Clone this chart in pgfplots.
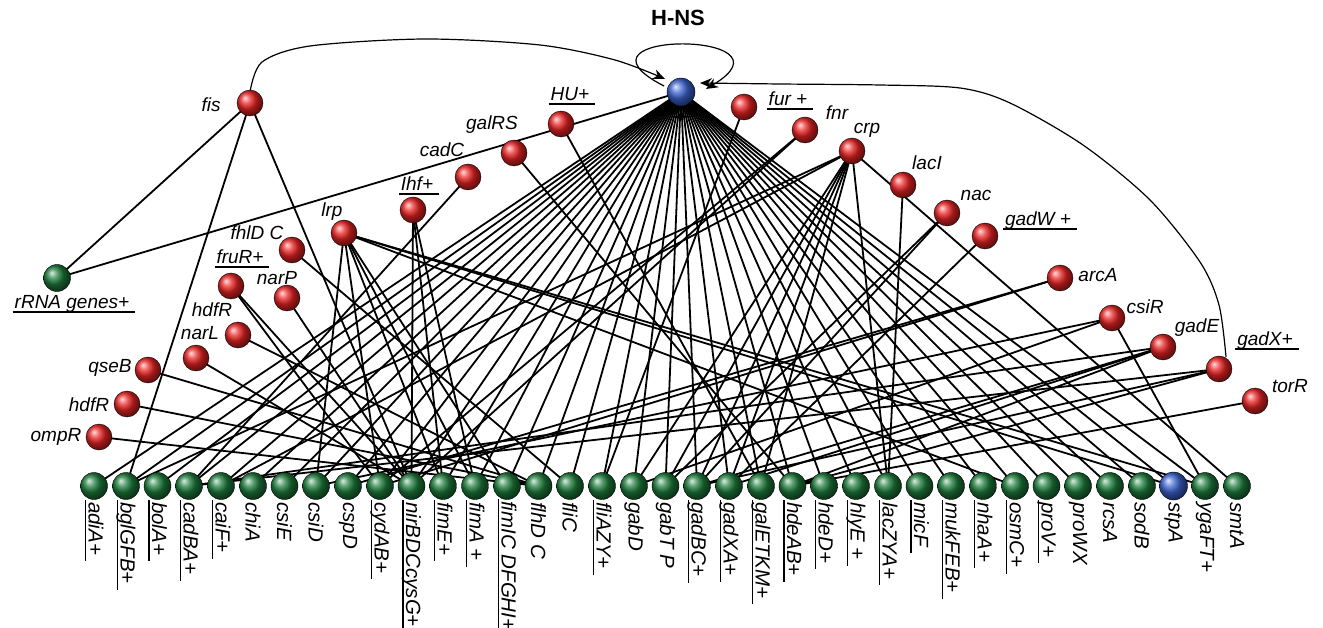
\documentclass[border=0pt]{standalone}
\usepackage{fontspec}
\setmainfont{Liberation Sans}
\usepackage{pgfplots}
\pgfplotsset{compat=1.18}
\usepackage{pgfplotstable}
\usetikzlibrary{arrows.meta,plotmarks}
\definecolor{nred}{RGB}{235,35,35}
\definecolor{ngreen}{RGB}{30,125,60}
\definecolor{nblue}{RGB}{60,100,210}
\newcommand\ul[1]{\setbox0\hbox{#1}\rlap{\hspace{-2pt}\rule[-4pt]{\dimexpr\wd0+8pt\relax}{1.6pt}}\box0}
\tikzset{
  tl/.style={inner sep=0pt, font=\fontsize{19}{19}\selectfont\itshape},
  bl/.style={rotate=-90, anchor=west, inner sep=0pt, font=\fontsize{20.5}{20.5}\selectfont\itshape},
}

\pgfplotstableread{
x y
94 486
126 486
157.5 486
189 486
221 486
253 486
284.5 486
316 486
348 486
380 486
411.5 486
443 486
475 486
507 486
538.5 486
570 486
602 486
634 486
665.5 486
697 486
729 486
761 486
792.5 486
824 486
856 486
888 486
919.5 486
951 486
983 486
1015 486
1046.5 486
1078 486
1110 486
1142 486
1205 486
1237 486
57 278
}\greennodes

\pgfplotstableread{
x y
250 103
561 124
514 153
468 177
413 210
344 233
292 250
231 286
287 298
238 335
196 358
148 370
127 404
99 437
744 107
805 130
852 151
903 185
947 213
985 236
1060 278
1112 318
1163 347
1219 369
1255 401
}\rednodes

\pgfplotstableread{
x y
681 92
1173.5 486
}\bluenodes

\pgfplotstableread{
x y xe ye
681 92 94 486
681 92 126 486
681 92 157.5 486
681 92 189 486
681 92 221 486
681 92 253 486
681 92 284.5 486
681 92 316 486
681 92 348 486
681 92 380 486
681 92 411.5 486
681 92 443 486
681 92 475 486
681 92 507 486
681 92 538.5 486
681 92 570 486
681 92 602 486
681 92 634 486
681 92 665.5 486
681 92 697 486
681 92 729 486
681 92 761 486
681 92 792.5 486
681 92 824 486
681 92 856 486
681 92 888 486
681 92 919.5 486
681 92 951 486
681 92 983 486
681 92 1015 486
681 92 1046.5 486
681 92 1078 486
681 92 1110 486
681 92 1142 486
681 92 1173.5 486
681 92 1205 486
681 92 57 278
250 103 57 278
250 103 126 486
250 103 411.5 486
561 124 761 486
514 153 792.5 486
468 177 189 486
413 210 411.5 486
413 210 443 486
413 210 475 486
344 233 316 486
344 233 380 486
344 233 443 486
344 233 475 486
344 233 507 486
344 233 1015 486
344 233 1173.5 486
344 233 1205 486
292 250 570 486
231 286 380 486
231 286 411.5 486
287 298 411.5 486
238 335 538.5 486
196 358 411.5 486
148 370 538.5 486
127 404 538.5 486
99 437 538.5 486
744 107 602 486
805 130 380 486
805 130 411.5 486
852 151 126 486
852 151 221 486
852 151 634 486
852 151 665.5 486
852 151 697 486
852 151 729 486
852 151 761 486
852 151 888 486
852 151 1237 486
903 185 888 486
947 213 665.5 486
947 213 697 486
985 236 729 486
1060 278 348 486
1060 278 380 486
1112 318 316 486
1112 318 634 486
1112 318 1205 486
1163 347 189 486
1163 347 697 486
1163 347 729 486
1163 347 792.5 486
1219 369 189 486
1219 369 697 486
1219 369 792.5 486
1255 401 792.5 486
}\edges

\begin{document}
\begin{tikzpicture}
\begin{axis}[
  scale only axis, width=1323pt, height=628pt,
  xmin=0, xmax=1323, ymin=0, ymax=628, y dir=reverse,
  axis lines=none, clip=false,
]
\coordinate (bbA) at (axis cs:0,628);
\coordinate (bbB) at (axis cs:1323,0);
% edges
\addplot[black, line width=1.8pt,
  quiver={u=\thisrow{xe}-\thisrow{x}, v=\thisrow{ye}-\thisrow{y}}]
  table[x=x, y=y] {\edges};
% arcs
\addplot[smooth, black, line width=1.2pt, -{Stealth[length=12pt,width=10pt]}]
  coordinates {(250,92) (262,62) (310,46) (425,39) (540,45) (615,60) (665,79)};
\addplot[smooth, black, line width=1.2pt, -{Stealth[length=12pt,width=10pt]}]
  coordinates {(1226,357) (1219,305) (1200,262) (1150,200) (1083,145) (1010,103) (960,88) (880,85) (780,84) (700,83)};
\draw[black, line width=1.2pt, -{Stealth[length=12pt,width=10pt]}]
  (axis cs:664,86) .. controls (axis cs:555,30) and (axis cs:805,30) .. (axis cs:706,89);
% nodes
\addplot[only marks, mark=ball, mark size=13.5pt, ball color=ngreen, mark options={ball color=ngreen}] table {\greennodes};
\addplot[only marks, mark=ball, mark size=13pt, ball color=nred, mark options={ball color=nred}] table {\rednodes};
\addplot[only marks, mark=ball, mark size=14pt, ball color=nblue, mark options={ball color=nblue}] table {\bluenodes};
% top labels
\node[font=\fontsize{22}{22}\selectfont\bfseries] at (axis cs:678,18) {H-NS};
\node[tl] at (axis cs:211,105) {fis};
\node[tl] at (axis cs:570,96) {\ul{HU+}};
\node[tl] at (axis cs:492,125) {galRS};
\node[tl] at (axis cs:442,150) {cadC};
\node[tl] at (axis cs:417,186) {\ul{Ihf+}};
\node[tl] at (axis cs:332,212) {lrp};
\node[tl] at (axis cs:257,233) {fhlD C};
\node[tl] at (axis cs:240,259) {\ul{fruR+}};
\node[tl] at (axis cs:277,278) {narP};
\node[tl] at (axis cs:212,310) {hdfR};
\node[tl] at (axis cs:200,333) {narL};
\node[tl] at (axis cs:110,368) {qseB};
\node[tl] at (axis cs:89,405) {hdfR};
\node[tl] at (axis cs:56,437) {ompR};
\node[tl] at (axis cs:72,304) {\ul{rRNA genes+}};
\node[tl] at (axis cs:788,101) {\ul{fur +}};
\node[tl] at (axis cs:837,113) {fnr};
\node[tl] at (axis cs:867,130) {crp};
\node[tl] at (axis cs:927,163) {lacI};
\node[tl] at (axis cs:976,195) {nac};
\node[tl] at (axis cs:1038,221) {\ul{gadW +}};
\node[tl] at (axis cs:1098,275) {arcA};
\node[tl] at (axis cs:1145,307) {csiR};
\node[tl] at (axis cs:1197,328) {gadE};
\node[tl] at (axis cs:1265,341) {\ul{gadX+}};
\node[tl] at (axis cs:1290,386) {torR};
% bottom labels
\node[bl] at (axis cs:94,502) {\ul{adiA+}};
\node[bl] at (axis cs:126,502) {\ul{bglGFB+}};
\node[bl] at (axis cs:157.5,502) {\ul{bolA+}};
\node[bl] at (axis cs:189,502) {\ul{cadBA+}};
\node[bl] at (axis cs:221,502) {\ul{caiF+}};
\node[bl] at (axis cs:253,502) {chiA};
\node[bl] at (axis cs:284.5,502) {csiE};
\node[bl] at (axis cs:316,502) {csiD};
\node[bl] at (axis cs:348,502) {cspD};
\node[bl] at (axis cs:380,502) {\ul{cydAB+}};
\node[bl] at (axis cs:411.5,502) {\ul{nirBDCcysG+}};
\node[bl] at (axis cs:443,502) {\ul{fimE+}};
\node[bl] at (axis cs:475,502) {\ul{fimA +}};
\node[bl] at (axis cs:507,501) {\ul{fimIC DFGHI+}};
\node[bl] at (axis cs:538.5,502) {flhD C};
\node[bl] at (axis cs:570,502) {fliC};
\node[bl] at (axis cs:602,502) {\ul{fliAZY+}};
\node[bl] at (axis cs:634,502) {gabD};
\node[bl] at (axis cs:665.5,502) {gabT P};
\node[bl] at (axis cs:697,502) {\ul{gadBC+}};
\node[bl] at (axis cs:729,502) {\ul{gadXA+}};
\node[bl] at (axis cs:761,502) {\ul{galETKM+}};
\node[bl] at (axis cs:792.5,502) {\ul{hdeAB+}};
\node[bl] at (axis cs:824,502) {\ul{hdeD+}};
\node[bl] at (axis cs:856,502) {\ul{hlyE +}};
\node[bl] at (axis cs:888,502) {\ul{lacZYA+}};
\node[bl] at (axis cs:919.5,502) {\ul{micF}};
\node[bl] at (axis cs:951,502) {\ul{mukFEB+}};
\node[bl] at (axis cs:983,502) {\ul{nhaA+}};
\node[bl] at (axis cs:1015,502) {\ul{osmC+}};
\node[bl] at (axis cs:1046.5,502) {\ul{proV+}};
\node[bl] at (axis cs:1078,502) {proWX};
\node[bl] at (axis cs:1110,502) {rcsA};
\node[bl] at (axis cs:1142,502) {sodB};
\node[bl] at (axis cs:1173.5,502) {stpA};
\node[bl] at (axis cs:1205,502) {ygaFT+};
\node[bl] at (axis cs:1237,502) {smtA};
\end{axis}
\pgfresetboundingbox
\useasboundingbox (bbA) rectangle (bbB);
\end{tikzpicture}
\end{document}
